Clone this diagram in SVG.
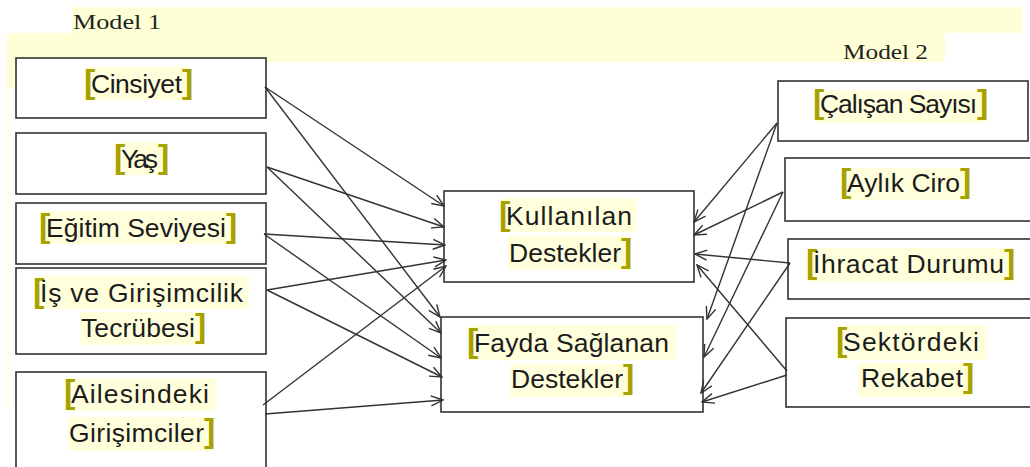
<svg xmlns="http://www.w3.org/2000/svg" width="1030" height="467" viewBox="0 0 1030 467">
<style>
.bg{fill:#FFFFD7}
.box{fill:#fff;stroke:#333;stroke-width:1.6}
.hl{fill:#FFFFDC}
.lbl{font-family:"Liberation Sans",Arial,sans-serif;font-size:26.5px;fill:#1c1c1c}
.br{font-family:"Liberation Sans",Arial,sans-serif;font-weight:bold;font-size:34px;fill:#A8A200;letter-spacing:-5px}
.model{font-family:"Liberation Serif","Times New Roman",serif;font-size:21px;fill:#222}
.conn line{stroke:#333;stroke-width:1.4;fill:none;marker-end:url(#arr)}
</style>
<defs>
<marker id="arr" markerUnits="userSpaceOnUse" markerWidth="14" markerHeight="12" refX="12" refY="5" orient="auto" viewBox="-1 -1 14 12">
<path d="M0,0 L12,5 L0,10" fill="none" stroke="#333" stroke-width="1.4"/>
</marker>
</defs>
<rect width="1030" height="467" fill="#fff"/>
<g id="background">
<rect class="bg" x="72" y="7" width="950" height="26"/>
<rect class="bg" x="7" y="33" width="938" height="29"/>
<rect class="bg" x="7" y="62" width="9" height="26"/>
<rect x="7" y="88" width="2" height="320" fill="#FFFFE4"/>
</g>
<g id="model1"><text class="model" x="73" y="29" textLength="88" lengthAdjust="spacingAndGlyphs">Model 1</text></g>
<g id="model2"><text class="model" x="843" y="59" textLength="85" lengthAdjust="spacingAndGlyphs">Model 2</text></g>

<g id="cinsiyet">
<rect class="box" x="16" y="58" width="250" height="60"/>
<rect class="hl" x="86" y="67" width="105" height="33"/>
<text class="lbl" y="93"><tspan class="br" x="84">[</tspan><tspan x="91" textLength="91">Cinsiyet</tspan><tspan class="br" x="182">]</tspan></text>
</g>
<g id="yas">
<rect class="box" x="16" y="133" width="250" height="61"/>
<rect class="hl" x="116" y="142" width="47" height="33"/>
<text class="lbl" y="168"><tspan class="br" x="114">[</tspan><tspan x="121" textLength="37">Yaş</tspan><tspan class="br" x="158">]</tspan></text>
</g>
<g id="egitim">
<rect class="box" x="16" y="203" width="250" height="61"/>
<rect class="hl" x="41" y="211" width="193" height="33"/>
<text class="lbl" y="237"><tspan class="br" x="39">[</tspan><tspan x="46" textLength="180">Eğitim Seviyesi</tspan><tspan class="br" x="226">]</tspan></text>
</g>
<g id="tecrube">
<rect class="box" x="16" y="268" width="250" height="86"/>
<rect class="hl" x="35" y="276" width="214" height="33"/>
<rect class="hl" x="80" y="312" width="122" height="33"/>
<text class="lbl" y="302"><tspan class="br" x="33">[</tspan><tspan x="40" textLength="203">İş ve Girişimcilik</tspan></text>
<text class="lbl" y="337"><tspan x="81" textLength="114">Tecrübesi</tspan><tspan class="br" x="195">]</tspan></text>
</g>
<g id="aile">
<rect class="box" x="16" y="372" width="250" height="100"/>
<rect class="hl" x="66" y="378" width="150" height="33"/>
<rect class="hl" x="68" y="417" width="145" height="34"/>
<text class="lbl" y="403"><tspan class="br" x="64">[</tspan><tspan x="71" textLength="138">Ailesindeki</tspan></text>
<text class="lbl" y="442"><tspan x="69" textLength="135">Girişimciler</tspan><tspan class="br" x="204">]</tspan></text>
</g>

<g id="kullanilan">
<rect class="box" x="444" y="191" width="250" height="91"/>
<rect class="hl" x="501" y="198" width="136" height="34"/>
<rect class="hl" x="508" y="236" width="123" height="34"/>
<text class="lbl" y="225"><tspan class="br" x="499">[</tspan><tspan x="506" textLength="126">Kullanılan</tspan></text>
<text class="lbl" y="262"><tspan x="509" textLength="112">Destekler</tspan><tspan class="br" x="621">]</tspan></text>
</g>
<g id="fayda">
<rect class="box" x="441" y="317" width="262" height="95"/>
<rect class="hl" x="469" y="325" width="207" height="35"/>
<rect class="hl" x="510" y="364" width="122" height="33"/>
<text class="lbl" y="352"><tspan class="br" x="467">[</tspan><tspan x="474" textLength="195">Fayda Sağlanan</tspan></text>
<text class="lbl" y="388"><tspan x="511" textLength="112">Destekler</tspan><tspan class="br" x="623">]</tspan></text>
</g>

<g id="calisan">
<rect class="box" x="778" y="81" width="250" height="60"/>
<rect class="hl" x="815" y="90" width="172" height="33"/>
<text class="lbl" y="113"><tspan class="br" x="813">[</tspan><tspan x="820" textLength="157">Çalışan Sayısı</tspan><tspan class="br" x="977">]</tspan></text>
</g>
<g id="ciro">
<rect class="box" x="785" y="158" width="250" height="63"/>
<rect class="hl" x="842" y="168" width="127" height="32"/>
<text class="lbl" y="192"><tspan class="br" x="840">[</tspan><tspan x="847" textLength="113">Aylık Ciro</tspan><tspan class="br" x="960">]</tspan></text>
</g>
<g id="ihracat">
<rect class="box" x="788" y="239" width="250" height="60"/>
<rect class="hl" x="808" y="248" width="205" height="34"/>
<text class="lbl" y="273"><tspan class="br" x="806">[</tspan><tspan x="813" textLength="191">İhracat Durumu</tspan><tspan class="br" x="1004">]</tspan></text>
</g>
<g id="rekabet">
<rect class="box" x="786" y="318" width="250" height="89"/>
<rect class="hl" x="838" y="325" width="149" height="35"/>
<rect class="hl" x="858" y="363" width="114" height="34"/>
<text class="lbl" y="351"><tspan class="br" x="836">[</tspan><tspan x="843" textLength="136">Sektördeki</tspan></text>
<text class="lbl" y="387"><tspan x="861" textLength="102">Rekabet</tspan><tspan class="br" x="963">]</tspan></text>
</g>

<g id="connectors" class="conn">
<line x1="265" y1="87" x2="444" y2="206"/>
<line x1="265" y1="87" x2="440" y2="317"/>
<line x1="267" y1="167" x2="444" y2="227"/>
<line x1="267" y1="167" x2="441" y2="333"/>
<line x1="264" y1="234" x2="445" y2="245"/>
<line x1="264" y1="234" x2="441" y2="358"/>
<line x1="267" y1="290" x2="446" y2="260"/>
<line x1="267" y1="290" x2="442" y2="377"/>
<line x1="263" y1="405" x2="446" y2="266"/>
<line x1="265" y1="414" x2="443" y2="400"/>
<line x1="777" y1="123" x2="694" y2="222"/>
<line x1="777" y1="123" x2="707" y2="319"/>
<line x1="783" y1="192" x2="694" y2="235"/>
<line x1="783" y1="192" x2="704" y2="357"/>
<line x1="790" y1="263" x2="695" y2="254"/>
<line x1="790" y1="263" x2="701" y2="393"/>
<line x1="787" y1="371" x2="697" y2="265"/>
<line x1="787" y1="375" x2="702" y2="402"/>
</g>
</svg>
